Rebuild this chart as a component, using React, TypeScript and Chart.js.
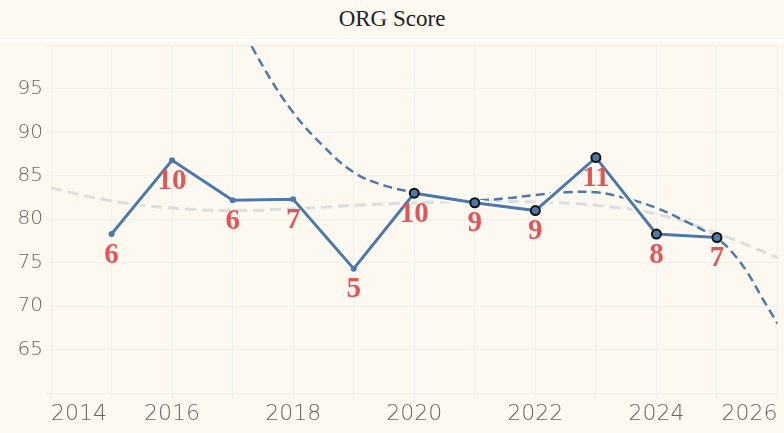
import { useEffect, useRef } from "react";
import { Chart, registerables } from "chart.js";

Chart.register(...registerables);

// ORG Score per year, with the count shown under each point
const years = [2015, 2016, 2017, 2018, 2019, 2020, 2021, 2022, 2023, 2024, 2025];
const scores = [78.3, 86.8, 82.2, 82.3, 74.3, 83.0, 81.9, 81.0, 87.1, 78.3, 77.9];
const counts = [6, 10, 6, 7, 5, 10, 9, 9, 11, 8, 7];

// long-run trend (light grey dashed)
const trendYears = [2014, 2015, 2016, 2017, 2018, 2019, 2020, 2021, 2022, 2023, 2024, 2025, 2026];
const trendValues = [83.6, 82.1, 81.3, 81.0, 81.2, 81.6, 81.9, 82.0, 82.0, 81.6, 80.6, 78.4, 75.6];

// recent trend (blue dashed)
const recentYears = [
  2017, 2017.5, 2018, 2018.5, 2019, 2019.5, 2020, 2020.5, 2021, 2021.5, 2022,
  2022.5, 2023, 2023.5, 2024, 2024.5, 2025, 2025.25, 2025.5, 2025.75, 2026,
];
const recentValues = [
  104.2, 97.6, 92.3, 88.4, 85.4, 83.9, 83.1, 82.5, 82.2, 82.4, 82.8,
  83.1, 83.1, 82.4, 81.3, 79.7, 77.8, 76.2, 73.9, 70.9, 68.0,
];

const yTicks = [65, 70, 75, 80, 85, 90, 95];
const xTickYears = [2014, 2016, 2018, 2020, 2022, 2024, 2026];

const BLUE = "#4e79a7";
const GRID = "#efefec";
const TICK_FONT = "'DejaVu Sans', sans-serif";

const countLabels = {
  id: "countLabels",
  afterDatasetsDraw(chart) {
    const meta = chart.getDatasetMeta(0);
    const ctx = chart.ctx;
    ctx.save();
    ctx.font = "bold 29px 'Liberation Serif', serif";
    ctx.fillStyle = "#e15759";
    ctx.textAlign = "center";
    ctx.textBaseline = "middle";
    meta.data.forEach((pt, i) => {
      ctx.fillText(String(counts[i]), pt.x, pt.y + 21);
    });
    ctx.restore();
  },
};

export default function App() {
  const canvasRef = useRef(null);

  useEffect(() => {
    const points = years.map((x, i) => ({ x, y: scores[i] }));
    const chart = new Chart(canvasRef.current.getContext("2d"), {
      type: "line",
      data: {
        datasets: [
          {
            data: points,
            borderColor: BLUE,
            borderWidth: 3,
            pointBackgroundColor: BLUE,
            pointBorderColor: "#111",
            pointRadius: (c) => (years[c.dataIndex] >= 2020 ? 4.5 : 3),
            pointBorderWidth: (c) => (years[c.dataIndex] >= 2020 ? 2 : 0),
            tension: 0,
            order: 0,
          },
          {
            // white halo under the main line
            data: points,
            borderColor: "#ffffff",
            borderWidth: 7,
            pointRadius: 0,
            tension: 0,
            order: 1,
          },
          {
            data: recentYears.map((x, i) => ({ x, y: recentValues[i] })),
            borderColor: BLUE,
            borderWidth: 2.5,
            borderDash: [9, 5],
            pointRadius: 0,
            tension: 0.4,
            order: 2,
          },
          {
            data: trendYears.map((x, i) => ({ x, y: trendValues[i] })),
            borderColor: "#dadede",
            borderWidth: 3,
            borderDash: [11, 6],
            pointRadius: 0,
            tension: 0.4,
            order: 3,
          },
        ],
      },
      options: {
        animation: false,
        responsive: false,
        layout: { padding: 0 },
        plugins: {
          legend: { display: false },
          tooltip: { enabled: false },
        },
        scales: {
          x: {
            type: "linear",
            min: 2014,
            max: 2026,
            afterFit: (axis) => {
              axis.height = 40;
            },
            afterBuildTicks: (axis) => {
              axis.ticks = trendYears.map((v) => ({ value: v }));
            },
            ticks: {
              align: "inner",
              autoSkip: false,
              maxRotation: 0,
              minRotation: 0,
              padding: 2,
              color: "#666",
              font: { family: TICK_FONT, size: 22, weight: 200 },
              // empty array keeps the grid line but takes no room
              callback: (v) => (xTickYears.includes(v) ? String(v) : []),
            },
            grid: { color: GRID, tickLength: 6, tickColor: GRID },
            border: { display: false },
          },
          y: {
            min: 60,
            max: 100,
            afterFit: (axis) => {
              axis.width = 51;
            },
            ticks: {
              stepSize: 5,
              padding: 3,
              color: "#666",
              font: { family: TICK_FONT, size: 20, weight: 200 },
              callback: (v) => (yTicks.includes(v) ? String(v) : []),
            },
            grid: { color: GRID, tickLength: 5, tickColor: GRID },
            border: { display: false },
          },
        },
      },
      plugins: [countLabels],
    });
    return () => chart.destroy();
  }, []);

  return (
    <div
      style={{
        position: "fixed",
        left: 0,
        top: 0,
        width: 784,
        height: 433,
        background: "#fdf9f1",
        overflow: "hidden",
      }}
    >
      <div
        style={{
          height: 42,
          lineHeight: "37px",
          textAlign: "center",
          fontFamily: "'Liberation Serif', serif",
          fontSize: 23,
          color: "#222",
          borderBottom: "3px solid #ffffff",
          boxSizing: "border-box",
        }}
      >
        ORG Score
      </div>
      <canvas
        ref={canvasRef}
        width={784}
        height={394}
        style={{ display: "block", marginTop: -3 }}
      />
    </div>
  );
}
